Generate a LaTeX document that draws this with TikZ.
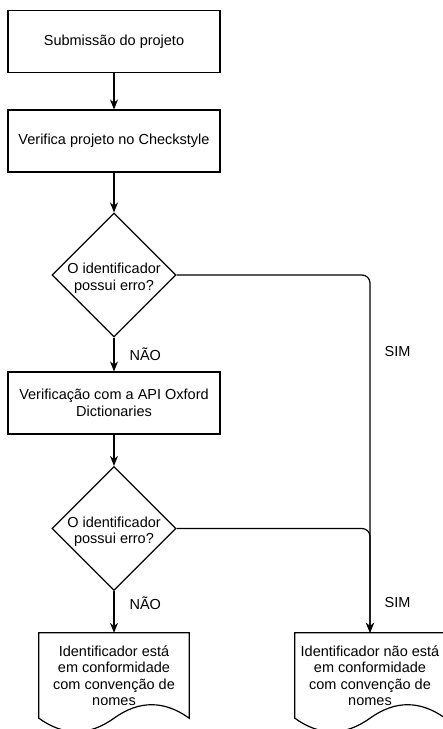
\documentclass[tikz,border=0pt]{standalone}
\usepackage{fontspec}
\setmainfont{Liberation Sans}
\usetikzlibrary{shapes.geometric,arrows.meta,positioning}

\begin{document}
\begin{tikzpicture}[
    x=1pt, y=-1pt,
    align=center,
    font=\fontsize{14.5}{16.5}\selectfont,
    ink/.style={draw=black, line width=1.2pt},
    proc/.style={rectangle, ink, minimum width=212pt, minimum height=62pt},
    decision/.style={diamond, ink, minimum width=124pt, minimum height=124pt,
      inner sep=0pt},
    doc/.style={rectangle, minimum width=150pt, minimum height=85pt},
    flow/.style={ink, -{Stealth[length=10pt, width=8pt]}},
    lbl/.style={inner sep=2pt}
  ]

  \useasboundingbox (0,0) rectangle (443,729);
  \clip (0,0) rectangle (443,729);

  % main column

  \node (sub)   [proc] at (114,41.5)   {Submissão do projeto};
  \node (check) [proc] at (114,141)    {Verifica projeto no Checkstyle};
  \node (dec1)  [decision, label={[yshift=-3pt]center:O identificador\\possui erro?}]
                       at (114,275)    {};
  \node (oxf)   [proc] at (114,403)    {Verificação com a API Oxford\\
                                          Dictionaries};
  \node (dec2)  [decision, label={[yshift=-3pt]center:O identificador\\possui erro?}]
                       at (114,528.5)  {};

  % the two outcomes

  \node (okdoc)  [doc] at (114,675.5)  {Identificador está\\
                                          em conformidade\\
                                          com convenção de\\
                                          nomes};
  \node (errdoc) [doc] at (370,675.5)  {Identificador não está\\
                                          em conformidade\\
                                          com convenção de\\
                                          nomes};

  % document outline with the wavy bottom
  \foreach \d in {okdoc, errdoc}
    \draw[ink] (\d.north west) -- (\d.north east) -- (\d.south east)
               .. controls +(-25,-18) and +(25,-18) .. (\d.south)
               .. controls +(-25,18) and +(25,18) .. (\d.south west) -- cycle;

  \draw[flow] (sub)   -- (check);
  \draw[flow] (check) -- (dec1);
  \draw[flow] (dec1)  -- node[lbl, right=13pt] {NÃO} (oxf);
  \draw[flow] (oxf)   -- (dec2);
  \draw[flow] (dec2)  -- node[lbl, pos=0.3, right=13pt] {NÃO} (okdoc);

  \draw[flow, rounded corners=8pt] (dec1) -| node[lbl, pos=0.607, right=12pt] {SIM} (errdoc);
  \draw[flow, rounded corners=8pt] (dec2) -| node[lbl, pos=0.856, right=12pt] {SIM} (errdoc);

\end{tikzpicture}
\end{document}
